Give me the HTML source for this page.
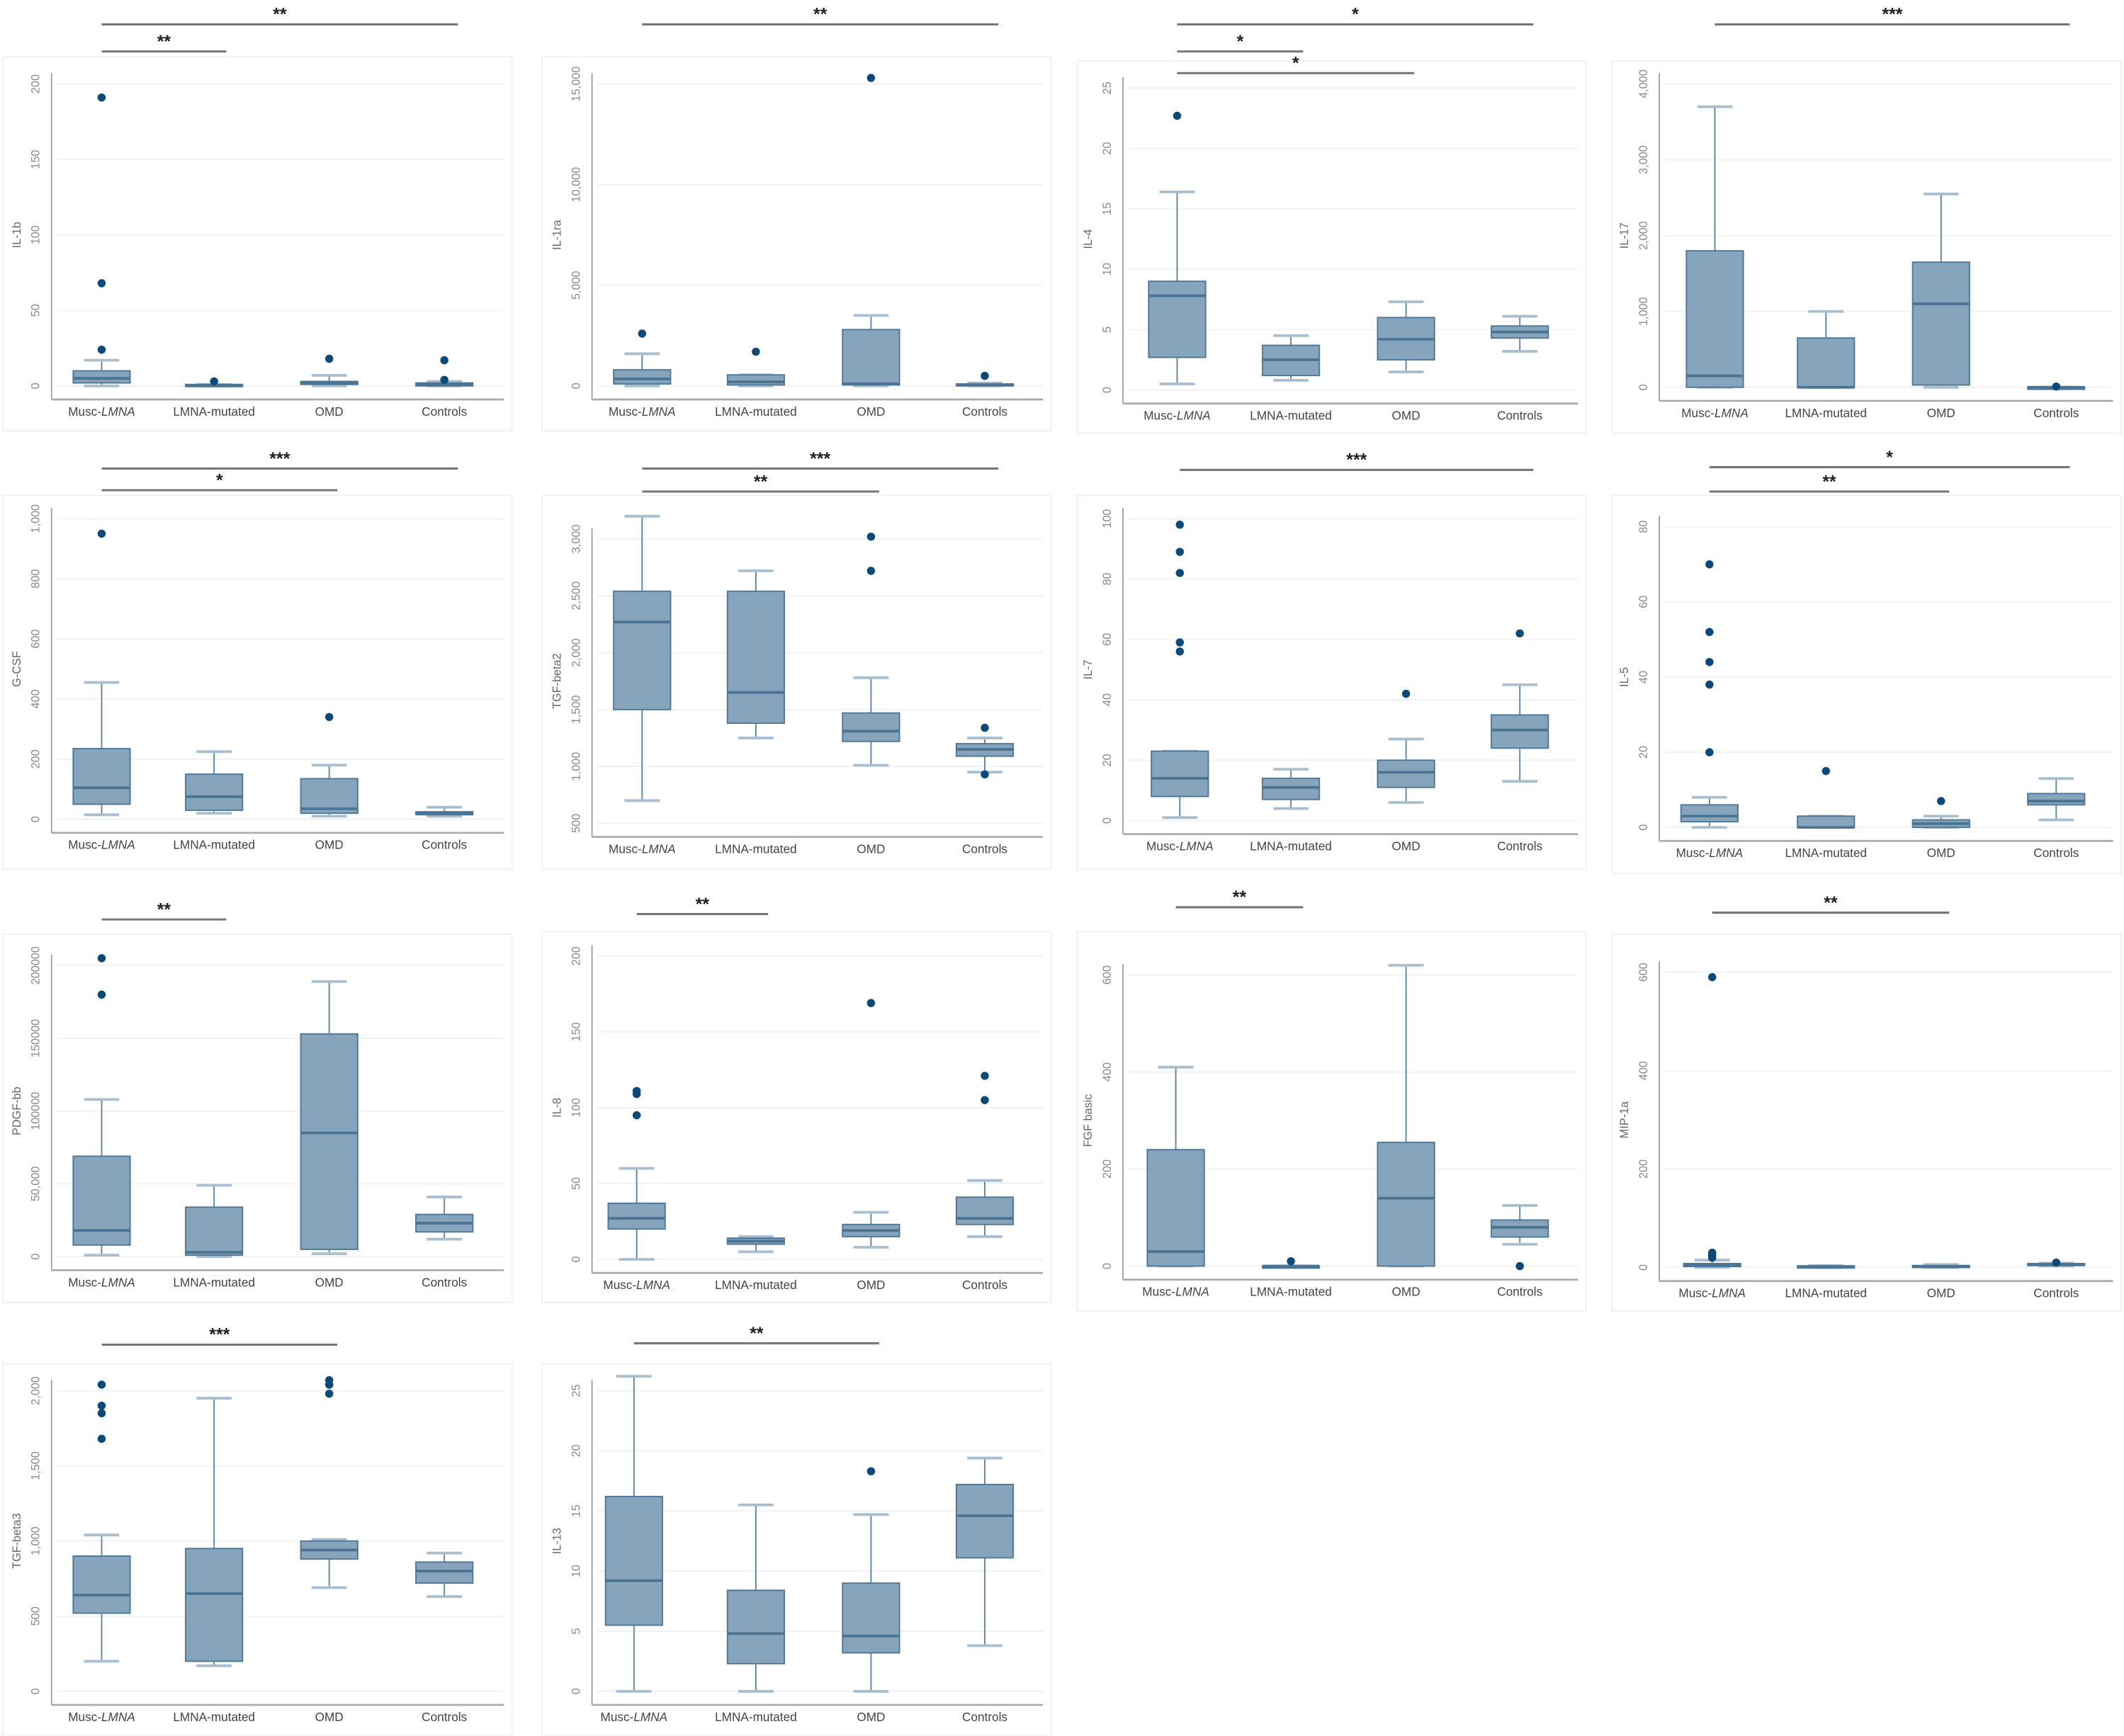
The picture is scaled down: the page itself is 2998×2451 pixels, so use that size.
<!DOCTYPE html>
<html><head><meta charset="utf-8">
<style>
html,body{margin:0;padding:0;background:#fff;}
svg{display:block;font-family:"Liberation Sans",sans-serif;}
</style></head>
<body>
<svg id="fig" width="2998" height="2451" viewBox="0 0 1568 1282" xmlns="http://www.w3.org/2000/svg"></svg>
<script>
// ---- data ----
const categories = ["Musc-LMNA","LMNA-mutated","OMD","Controls"];
const panelNames = ["IL-1b","IL-1ra","IL-4","IL-17","G-CSF","TGF-beta2","IL-7","IL-5","PDGF-bb","IL-8","FGF basic","MIP-1a","TGF-beta3","IL-13"];
// box stats per group: [q1, median, q3, whiskerLow, whiskerHigh]
const statsIL1b = [[2,5,10,0,17],[0,0,1,0,1],[1,2,3,0,7],[0,1,2,0,3]];
const outIL1b = [[24,68,191],[3],[18],[4,17]];
const statsIL1ra = [[100,350,800,0,1600],[50,200,550,0,550],[50,100,2800,0,3500],[20,50,100,0,150]];
const outIL1ra = [[2600],[1700],[15300],[500]];
const statsIL4 = [[2.7,7.8,9,0.5,16.4],[1.2,2.5,3.7,0.8,4.5],[2.5,4.2,6,1.5,7.3],[4.3,4.8,5.3,3.2,6.1]];
const outIL4 = [[22.7],[],[],[]];
const statsIL17 = [[0,150,1800,0,3700],[0,0,650,0,1000],[30,1100,1650,0,2550],[0,0,0,0,0]];
const outIL17 = [[],[],[],[10]];
const statsGCSF = [[50,105,235,15,455],[30,75,150,20,225],[20,35,135,10,180],[15,20,25,10,40]];
const outGCSF = [[950],[],[340],[]];
const statsTGFb2 = [[1500,2270,2540,700,3200],[1380,1650,2540,1250,2720],[1220,1310,1470,1010,1780],[1090,1150,1200,950,1250]];
const outTGFb2 = [[],[],[2720,3020],[930,1340]];
const statsIL7 = [[8,14,23,1,23],[7,11,14,4,17],[11,16,20,6,27],[24,30,35,13,45]];
const outIL7 = [[56,59,82,89,98],[],[42],[62]];
const statsIL5 = [[1.5,3,6,0,8],[0,0,3,0,3],[0,1,2,0,3],[6,7,9,2,13]];
const outIL5 = [[20,38,44,52,70],[15],[7],[]];
const statsPDGF = [[8000,18000,69000,1000,108000],[1000,3000,34000,0,49000],[5000,85000,153000,2000,189000],[17000,23000,29000,12000,41000]];
const outPDGF = [[180000,205000],[],[],[]];
const statsIL8 = [[20,27,37,0,60],[10,12,14,5,15],[15,19,23,8,31],[23,27,41,15,52]];
const outIL8 = [[95,109,111],[],[169],[105,121]];
const statsFGF = [[0,30,240,0,410],[0,0,0,0,0],[0,140,255,0,620],[60,80,95,45,125]];
const outFGF = [[],[10],[],[0]];
const statsMIP = [[2,5,8,0,15],[1,2,3,0,4],[1,2,4,0,6],[5,6,8,3,9]];
const outMIP = [[20,25,30,590],[],[],[10]];
const statsTGFb3 = [[520,640,900,200,1040],[200,650,950,170,1950],[880,940,1000,690,1010],[720,800,860,630,920]];
const outTGFb3 = [[1680,1850,1900,2040],[],[1980,2040,2070],[]];
const statsIL13 = [[5.5,9.2,16.2,0,26.2],[2.3,4.8,8.4,0,15.5],[3.2,4.6,9,0,14.7],[11.1,14.6,17.2,3.8,19.4]];
const outIL13 = [[],[],[18.3],[]];
const tickIL1b=["0","50","100","150","200"], tickIL1ra=["0","5,000","10,000","15,000"], tickIL4=["0","5","10","15","20","25"], tickIL17=["0","1,000","2,000","3,000","4,000"];
const tickGCSF=["0","200","400","600","800","1,000"], tickTGFb2=["500","1,000","1,500","2,000","2,500","3,000"], tickIL7=["0","20","40","60","80","100"], tickIL5=["0","20","40","60","80"];
const tickPDGF=["0","50,000","100000","150000","200000"], tickIL8=["0","50","100","150","200"], tickFGF=["0","200","400","600"], tickMIP=["0","200","400","600"];
const tickTGFb3=["0","500","1,000","1,500","2,000"], tickIL13=["0","5","10","15","20","25"];
const tickVals = [[0,50,100,150,200],[0,5000,10000,15000],[0,5,10,15,20,25],[0,1000,2000,3000,4000],[0,200,400,600,800,1000],[500,1000,1500,2000,2500,3000],[0,20,40,60,80,100],[0,20,40,60,80],[0,50000,100000,150000,200000],[0,50,100,150,200],[0,200,400,600],[0,200,400,600],[0,500,1000,1500,2000],[0,5,10,15,20,25]];
// significance labels
const sigLabels = [["**","**"],["**"],["*","*","*"],["***"],["***","*"],["***","**"],["***"],["*","**"],["**"],["**"],["**"],["**"],["***"],["**"]];
const sigPairs = [[[0,3],[0,1]],[[0,3]],[[0,3],[0,1],[0,2]],[[0,3]],[[0,3],[0,2]],[[0,3],[0,2]],[[0,3]],[[0,3],[0,2]],[[0,1]],[[0,1]],[[0,1]],[[0,2]]];
sigPairs.push([[0,2]]); sigPairs.push([[0,2]]);

const allStats=[statsIL1b,statsIL1ra,statsIL4,statsIL17,statsGCSF,statsTGFb2,statsIL7,statsIL5,statsPDGF,statsIL8,statsFGF,statsMIP,statsTGFb3,statsIL13];
const allOut=[outIL1b,outIL1ra,outIL4,outIL17,outGCSF,outTGFb2,outIL7,outIL5,outPDGF,outIL8,outFGF,outMIP,outTGFb3,outIL13];
const allTicks=[tickIL1b,tickIL1ra,tickIL4,tickIL17,tickGCSF,tickTGFb2,tickIL7,tickIL5,tickPDGF,tickIL8,tickFGF,tickMIP,tickTGFb3,tickIL13];

// ---- layout (pixels, not data) ----
const L = [
 {l:0,ft:42,fb:318,y0:285,y1:62,ax:38,sy:[18,38],xs:[75,158,243,328]},
 {l:398,ft:42,fb:318,y0:285,y1:62,ax:437,sy:[18],xs:[474,558,643,727]},
 {l:793,ft:45,fb:320,y0:288,y1:65,ax:829,sy:[18,38,54],xs:[869,953,1038,1122]},
 {l:1188,ft:45,fb:320,y0:286,y1:62,ax:1225,sy:[18],xs:[1266,1348,1433,1518]},
 {l:0,ft:366,fb:642,y0:605,y1:383,ax:38,sy:[346,362],xs:[75,158,243,328]},
 {l:398,ft:366,fb:642,y0:608,y1:398,ax:437,sy:[346,363],xs:[474,558,643,727]},
 {l:793,ft:366,fb:642,y0:606,y1:383,ax:829,sy:[347],xs:[871,953,1038,1122]},
 {l:1188,ft:366,fb:645,y0:611,y1:389,ax:1225,sy:[345,363],xs:[1262,1348,1433,1518]},
 {l:0,ft:690,fb:962,y0:928,y1:713,ax:38,sy:[679],xs:[75,158,243,328]},
 {l:398,ft:688,fb:962,y0:930,y1:706,ax:437,sy:[675],xs:[470,558,643,727]},
 {l:793,ft:688,fb:968,y0:935,y1:720,ax:829,sy:[670],xs:[868,953,1038,1122]},
 {l:1188,ft:690,fb:968,y0:936,y1:718,ax:1225,sy:[674],xs:[1264,1348,1433,1518]},
 {l:0,ft:1007,fb:1282,y0:1249,y1:1027,ax:38,sy:[993],xs:[75,158,243,328]},
 {l:398,ft:1007,fb:1282,y0:1249,y1:1027,ax:437,sy:[992],xs:[468,558,643,727]}
];
const NS="http://www.w3.org/2000/svg";
const svg=document.getElementById('fig');
function mk(tag,attrs,parent){const e=document.createElementNS(NS,tag);for(const k in attrs)e.setAttribute(k,attrs[k]);(parent||svg).appendChild(e);return e;}

for(let p=0;p<14;p++){
  const lay=L[p], st=allStats[p], out=allOut[p], tv=tickVals[p], tl=allTicks[p];
  const g=mk('g',{});
  
  
  const vmin=tv[0], vmax=tv[tv.length-1];
  const yS=v=>lay.y0+(v-vmin)/(vmax-vmin)*(lay.y1-lay.y0);
  const right=lay.l+372;
  const fr=mk('rect',{x:lay.l+2,y:lay.ft,width:376,height:lay.fb-lay.ft,fill:'none',stroke:'#eef1f4','stroke-width':1},g);
  
  
  // gridlines and ticks
  tv.forEach((v,i)=>{
    const y=yS(v);
    const gl=mk('line',{x1:lay.ax+4,x2:right,y1:y,y2:y,stroke:'#eef2f5','stroke-width':1},g);
    
    
    const tx=lay.ax-9;
    const t=mk('text',{x:tx,y:y,'font-size':8.5,fill:'#888','text-anchor':'middle',transform:`rotate(-90 ${tx} ${y})`},g);
    t.textContent=tl[i];
    
    
  });
  const axB=lay.y0+10;
  const ya=mk('line',{x1:lay.ax,x2:lay.ax,y1:lay.y1-8,y2:axB,stroke:'#999','stroke-width':0.9},g);
  
  
  const xa=mk('line',{x1:lay.ax,x2:right,y1:axB,y2:axB,stroke:'#aaa','stroke-width':1.4},g);
  
  
  const ytx=lay.ax-23, yty=(lay.y0+lay.y1)/2;
  const yt=mk('text',{x:ytx,y:yty,'font-size':8.5,fill:'#666','text-anchor':'middle',transform:`rotate(-90 ${ytx} ${yty})`},g);
  yt.textContent=panelNames[p];
  
  
  // boxes
  categories.forEach((c,i)=>{
    const x=lay.xs[i], s=st[i];
    const bw=21, cw=13;
    const wl=mk('line',{x1:x,x2:x,y1:yS(s[4]),y2:yS(s[3]),stroke:'#5e86a5','stroke-width':1},g);
    
    
    [s[3],s[4]].forEach(v=>{
      const cap=mk('line',{x1:x-cw,x2:x+cw,y1:yS(v),y2:yS(v),stroke:'#a9bfd0','stroke-width':2},g);
      
      
    });
    const top=yS(s[2]), bot=yS(s[0]);
    const b=mk('rect',{x:x-bw,y:top,width:2*bw,height:Math.max(1.5,bot-top),fill:'#86a4bb',stroke:'#4f7898','stroke-width':1},g);
    
    
    const md=mk('line',{x1:x-bw,x2:x+bw,y1:yS(s[1]),y2:yS(s[1]),stroke:'#4a7394','stroke-width':2},g);
    
    
    out[i].forEach(v=>{
      const o=mk('circle',{cx:x,cy:yS(v),r:3,fill:'#0b4a78'},g);
      
      
    });
    const lb=mk('text',{x:x,y:axB+12,'font-size':9,fill:'#444','text-anchor':'middle'},g);
    if(i===0){ lb.innerHTML='Musc-<tspan font-style="italic">LMNA</tspan>'; } else { lb.textContent=c; }
    
    
  });
  // significance bars
  sigPairs[p].forEach((pr,j)=>{
    const y=lay.sy[j];
    const x1=lay.xs[pr[0]], x2=lay.xs[pr[1]]+ (pr[1]===3?10:(pr[1]===2?6:9));
    const ln=mk('line',{x1:x1,x2:x2,y1:y,y2:y,stroke:'#777','stroke-width':1.6},g);
    
    
    const t=mk('text',{x:(x1+x2)/2,y:y-3,'font-size':13,'font-weight':'bold',fill:'#222','text-anchor':'middle'},g);
    t.textContent=sigLabels[p][j];
    
    
  });
}
</script>
</body></html>
